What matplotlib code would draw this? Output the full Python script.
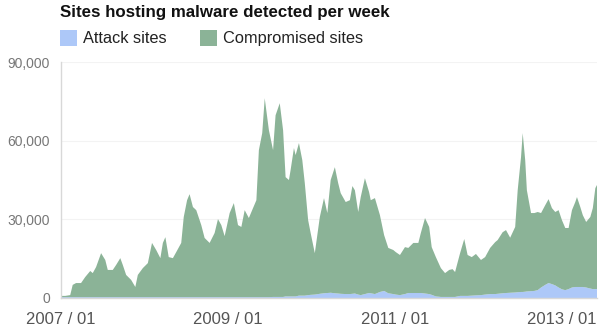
import matplotlib
matplotlib.use("Agg")
import matplotlib.pyplot as plt
from matplotlib.patches import Rectangle
from matplotlib.ticker import FuncFormatter

# decimal-year positions of the weekly samples
dates = [2007.00, 2007.05, 2007.11, 2007.14, 2007.18, 2007.24, 2007.29, 2007.35, 2007.38, 2007.42,
         2007.48, 2007.53, 2007.56, 2007.62, 2007.66, 2007.71, 2007.74, 2007.78, 2007.84, 2007.89,
         2007.92, 2007.98, 2008.04, 2008.09, 2008.14, 2008.19, 2008.22, 2008.25, 2008.29, 2008.34,
         2008.38, 2008.44, 2008.47, 2008.51, 2008.54, 2008.58, 2008.62, 2008.68, 2008.72, 2008.78,
         2008.84, 2008.88, 2008.92, 2008.96, 2009.02, 2009.07, 2009.12, 2009.16, 2009.20, 2009.25,
         2009.30, 2009.34, 2009.37, 2009.41, 2009.44, 2009.49, 2009.54, 2009.57, 2009.62, 2009.66,
         2009.69, 2009.73, 2009.75, 2009.79, 2009.81, 2009.85, 2009.89, 2009.92, 2009.96, 2009.99,
         2010.04, 2010.10, 2010.15, 2010.19, 2010.23, 2010.28, 2010.32, 2010.35, 2010.41, 2010.46,
         2010.49, 2010.52, 2010.56, 2010.59, 2010.64, 2010.69, 2010.71, 2010.76, 2010.82, 2010.87,
         2010.92, 2010.98, 2011.01, 2011.06, 2011.12, 2011.16, 2011.22, 2011.28, 2011.31, 2011.36,
         2011.41, 2011.44, 2011.49, 2011.55, 2011.60, 2011.65, 2011.69, 2011.72, 2011.78, 2011.83,
         2011.87, 2011.92, 2011.97, 2012.03, 2012.08, 2012.14, 2012.20, 2012.23, 2012.29, 2012.33,
         2012.38, 2012.44, 2012.47, 2012.51, 2012.53, 2012.56, 2012.58, 2012.63, 2012.67, 2012.71,
         2012.75, 2012.80, 2012.84, 2012.88, 2012.92, 2012.96, 2013.00, 2013.04, 2013.08, 2013.12,
         2013.16, 2013.18, 2013.22, 2013.25, 2013.29, 2013.34, 2013.37, 2013.40, 2013.42]

# Attack sites (thousands)
attack = [0.3, 0.3, 0.3, 0.3, 0.3, 0.3, 0.3, 0.3, 0.3, 0.3,
          0.3, 0.3, 0.3, 0.3, 0.3, 0.3, 0.3, 0.3, 0.3, 0.3,
          0.3, 0.3, 0.3, 0.3, 0.3, 0.3, 0.3, 0.3, 0.3, 0.3,
          0.3, 0.3, 0.3, 0.3, 0.3, 0.3, 0.3, 0.3, 0.3, 0.3,
          0.3, 0.3, 0.3, 0.3, 0.3, 0.3, 0.3, 0.3, 0.3, 0.3,
          0.3, 0.3, 0.3, 0.3, 0.3, 0.3, 0.4, 0.4, 0.4, 0.4,
          0.6, 0.6, 0.6, 0.6, 0.6, 0.9, 0.9, 0.9, 1.1, 1.2,
          1.3, 1.6, 1.8, 1.9, 2.0, 1.8, 1.7, 1.6, 1.5, 1.5,
          1.6, 1.7, 1.3, 1.1, 1.5, 1.9, 1.8, 1.5, 2.3, 2.7,
          1.8, 1.5, 1.3, 1.1, 1.5, 1.9, 1.9, 1.9, 1.9, 1.7,
          1.5, 1.2, 0.6, 0.4, 0.4, 0.4, 0.4, 0.4, 0.8, 0.8,
          0.8, 0.9, 1.0, 1.1, 1.3, 1.5, 1.5, 1.6, 1.8, 1.9,
          2.0, 2.1, 2.2, 2.3, 2.3, 2.4, 2.5, 2.6, 2.7, 3.0,
          4.0, 5.0, 5.7, 5.3, 4.8, 4.0, 3.3, 3.0, 3.4, 4.0,
          4.2, 4.2, 4.2, 4.2, 4.0, 3.6, 3.4, 3.4, 3.4]

# Compromised sites (thousands)
compromised = [0.5, 0.5, 0.8, 4.7, 5.4, 5.4, 7.7, 10.0, 9.2, 11.5,
               16.8, 14.2, 10.4, 10.4, 12.3, 14.9, 12.3, 8.5, 6.6, 3.9,
               8.5, 11.1, 13.0, 20.7, 18.0, 14.9, 20.7, 22.9, 15.3, 14.9,
               17.2, 20.7, 30.6, 37.0, 39.3, 34.4, 33.2, 27.5, 22.6, 20.7,
               24.5, 29.8, 27.5, 23.3, 32.1, 35.9, 27.5, 26.8, 33.2, 30.2,
               34.0, 37.0, 56.1, 62.6, 75.9, 63.7, 56.0, 69.3, 73.9, 63.6,
               45.5, 44.4, 48.2, 56.6, 53.9, 58.2, 51.7, 42.9, 28.6, 23.6,
               15.8, 29.3, 36.3, 30.5, 43.0, 48.1, 42.1, 38.4, 35.1, 35.8,
               41.1, 39.4, 31.5, 37.4, 44.2, 38.5, 35.5, 36.6, 29.3, 21.3,
               17.3, 16.8, 16.2, 15.3, 17.9, 17.2, 19.1, 19.1, 22.9, 28.8,
               25.6, 18.2, 15.0, 11.0, 9.1, 10.3, 10.6, 9.5, 16.3, 21.7,
               15.6, 14.7, 15.8, 13.4, 14.3, 17.6, 19.8, 20.5, 23.3, 24.0,
               21.0, 25.0, 38.9, 51.4, 60.6, 50.2, 38.6, 29.8, 29.7, 29.8,
               28.4, 30.4, 32.0, 29.0, 28.0, 29.5, 26.4, 23.7, 23.3, 29.5,
               32.4, 34.3, 30.5, 27.4, 25.0, 27.3, 30.9, 38.5, 39.7]

title = "Sites hosting malware detected per week"
series_names = ["Attack sites", "Compromised sites"]
y_ticks = [0, 30000, 60000, 90000]
x_ticks = [2007, 2009, 2011, 2013]
x_tick_labels = ["2007 / 01", "2009 / 01", "2011 / 01", "2013 / 01"]

plt.rcParams['font.family'] = ['Liberation Sans', 'DejaVu Sans']

BLUE = "#adc8f8"
GREEN = "#8bb397"

fig = plt.figure(figsize=(6, 3.3), dpi=100)
ax = fig.add_axes([0.1017, 0.097, 0.8933, 0.715])

att = [v * 1000 for v in attack]
comp = [v * 1000 for v in compromised]
ax.stackplot(dates, att, comp, colors=[BLUE, GREEN], linewidth=0)

ax.set_xlim(2007.0, 2013.42)
ax.set_ylim(0, 90000)
ax.set_yticks(y_ticks)
ax.yaxis.set_major_formatter(FuncFormatter(lambda v, p: f"{int(v):,}"))
ax.set_xticks(x_ticks)
ax.set_xticklabels(x_tick_labels)
ax.tick_params(axis='y', length=0, pad=8, labelsize=10, labelcolor="#777777")
ax.tick_params(axis='x', length=0, pad=10, labelsize=12, labelcolor="#555555")

for yv in y_ticks[1:]:
    ax.axhline(yv, color="#f3f3f3", lw=0.8, zorder=0)

for s in ["top", "right"]:
    ax.spines[s].set_visible(False)
ax.spines["left"].set_color("#d8d8d8")
ax.spines["left"].set_linewidth(1.0)
ax.spines["bottom"].set_color("#d8d8d8")
ax.spines["bottom"].set_linewidth(1.0)

fig.text(60 / 600, 1 - 12 / 330, title, fontsize=12.2, fontweight="bold",
         color="#111111", ha="left", va="center")

# legend
items = [(60, BLUE, series_names[0]), (200, GREEN, series_names[1])]
for xpix, col, lab in items:
    fig.patches.append(Rectangle((xpix / 600, 1 - 46 / 330), 17 / 600, 16 / 330,
                                 transform=fig.transFigure, facecolor=col,
                                 edgecolor="none"))
    fig.text((xpix + 23) / 600, 1 - 38.5 / 330, lab, fontsize=11.8,
             color="#222222", ha="left", va="center")

fig.savefig("out.png", dpi=100)
